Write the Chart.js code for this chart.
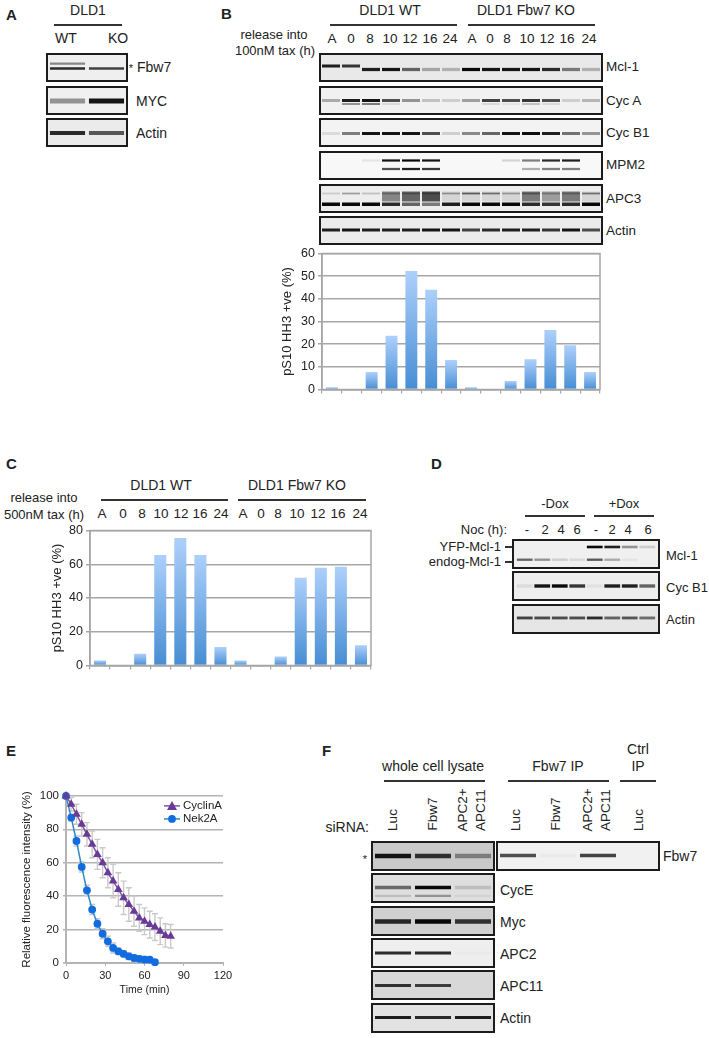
<!DOCTYPE html>
<html>
<head>
<meta charset="utf-8">
<title>DLD1 Fbw7 KO figure</title>
<script src="https://cdn.jsdelivr.net/npm/chart.js@4/dist/chart.umd.min.js"></script>
<style>
  html, body { margin: 0; background: #fff; }
  #page { position: relative; width: 709px; height: 1038px; overflow: hidden; font-family: "Liberation Sans", Arial, sans-serif; color: #222; }
  .t { position: absolute; white-space: nowrap; line-height: 1; }
  .rule { position: absolute; height: 1.5px; background: #333; }
  .blot { position: absolute; box-sizing: border-box; border: 2px solid #1c1c1c; }
  .blot canvas, .plot { display: block; }
  .plot { position: absolute; }
</style>
</head>
<body>
<div id="page"></div>
<script>
// bar charts, panels B and C
const timeLabels = ['A', '0', '8', '10', '12', '16', '24', 'A', '0', '8', '10', '12', '16', '24'];
const hh3Tax100 = [1, 0, 7.7, 23.7, 52.3, 44, 13, 1, 0, 3.8, 13.3, 26.3, 19.5, 7.7];
const hh3Tax500 = [3, 0, 7, 65.5, 75.5, 65.5, 11, 3, 0, 5.3, 52, 58, 58.5, 12];

// degradation curves, panel E
const cyclinATime = [0, 4, 8, 12, 16, 20, 24, 28, 32, 36, 40, 44, 48, 52, 56, 60, 64, 68, 72, 76, 80];
const cyclinA = [100, 95, 89, 83, 77, 71, 65, 60, 54, 49, 44, 39, 35, 31, 27, 25, 23, 21.5, 19, 16.5, 16];
const cyclinAErr = [0, 4, 6, 7, 7, 8, 9, 9, 9, 10, 10, 10, 10, 9, 8, 8, 8, 8, 8, 7, 7];
const nek2ATime = [0, 4, 8, 12, 16, 20, 24, 28, 32, 36, 40, 44, 48, 52, 56, 60, 64, 68];
const nek2A = [100, 87, 73, 57.5, 43.5, 32, 23.5, 17.5, 13, 9, 7, 5.5, 4, 3, 2.5, 2, 2, 0.5];
const nek2AErr = [0, 2, 3, 3, 3, 3, 3, 3, 3, 3, 2, 2, 2, 2, 2, 2, 1, 0.5];

// blot band strengths per lane (0-1), panel A
const aLanes = ['WT', 'KO'];
const aFbw7Upper = [0.45, 0];
const aFbw7 = [0.85, 0.75];
const aMyc = [0.4, 0.95];
const aActin = [0.85, 0.65];

// panel B
const bMcl1Early = [0.9, 0.8, 0, 0, 0, 0, 0, 0, 0, 0, 0, 0, 0, 0];
const bMcl1 = [0, 0, 0.9, 0.95, 0.6, 0.3, 0.25, 1, 0.95, 0.95, 0.95, 0.85, 0.5, 0.25];
const bCycA = [0.3, 0.9, 0.95, 0.7, 0.4, 0.2, 0.15, 0.35, 0.75, 0.7, 0.8, 0.7, 0.15, 0.25];
const bCycALower = [0, 0.4, 0.5, 0.1, 0, 0, 0, 0, 0.1, 0.05, 0.2, 0.1, 0, 0];
const bCycB1 = [0.1, 0.5, 0.95, 0.95, 0.95, 0.7, 0.15, 0.45, 0.6, 0.95, 0.98, 0.9, 0.55, 0.4];
const bMpm2Upper = [0, 0, 0.08, 0.95, 1, 0.95, 0, 0, 0, 0.15, 0.5, 0.85, 0.9, 0];
const bMpm2Lower = [0, 0, 0, 0.7, 0.9, 0.8, 0, 0, 0, 0, 0.3, 0.5, 0.5, 0];
const bApc3Upper = [0.15, 0.35, 0.2, 0.3, 0.3, 0.3, 0.35, 0.6, 0.5, 0.3, 0.4, 0.3, 0.3, 0.5];
const bApc3Smear = [0, 0, 0, 0.45, 0.6, 0.7, 0.1, 0.1, 0.1, 0.1, 0.5, 0.35, 0.5, 0.1];
const bApc3Lower = [1, 1, 1, 0.85, 0.6, 0.5, 0.9, 1, 1, 1, 0.85, 0.8, 0.85, 1];
const bActin = [0.9, 0.95, 0.9, 0.9, 0.9, 0.95, 0.95, 0.75, 0.85, 0.9, 0.9, 0.8, 0.95, 0.7];

// panel D
const dLanes = ['-', '2', '4', '6', '-', '2', '4', '6'];
const dYfpMcl1 = [0, 0, 0, 0, 1, 0.9, 0.4, 0.15];
const dEndogMcl1 = [0.6, 0.4, 0.15, 0.1, 0.65, 0.3, 0.05, 0];
const dCycB1 = [0.08, 0.95, 1, 0.8, 0.05, 0.9, 0.9, 0.6];
const dActin = [0.75, 0.7, 0.7, 0.7, 0.85, 0.6, 0.65, 0.55];

// panel F
const fLysateLanes = ['Luc', 'Fbw7', 'APC2+ APC11'];
const fIpLanes = ['Luc', 'Fbw7', 'APC2+ APC11', 'Luc'];
const fFbw7 = [0.95, 0.8, 0.4];
const fFbw7Ip = [0.7, 0.03, 0.75, 0];
const fCycE = [0.55, 1, 0.15];
const fCycELower = [0.15, 0.35, 0.05];
const fMyc = [0.85, 1, 0.8];
const fApc2 = [0.85, 0.85, 0.02];
const fApc11 = [0.8, 0.75, 0];
const fActin = [0.9, 0.85, 0.9];

const page = document.getElementById('page');
const FONT = '"Liberation Sans", Arial, sans-serif';
Chart.defaults.font.family = FONT;
Chart.defaults.animation = false;

// text anchored on its centre by default, align 'l' or 'r' anchors on that edge
function text(str, x, y, size, opts) {
  opts = opts || {};
  const el = document.createElement('div');
  el.className = 't';
  el.textContent = str;
  el.style.left = x + 'px';
  el.style.top = y + 'px';
  el.style.fontSize = (size || 13.5) + 'px';
  if (opts.bold) el.style.fontWeight = 'bold';
  const shiftX = opts.align === 'l' ? '0' : opts.align === 'r' ? '-100%' : '-50%';
  el.style.transform = 'translate(' + shiftX + ',-50%)' + (opts.rotate ? ' rotate(-90deg)' : '');
  page.appendChild(el);
}

function rule(x1, x2, y, color) {
  const el = document.createElement('div');
  el.className = 'rule';
  el.style.left = x1 + 'px';
  el.style.width = (x2 - x1) + 'px';
  el.style.top = y + 'px';
  if (color) el.style.background = color;
  page.appendChild(el);
}

function newCanvas(left, top, width, height) {
  const c = document.createElement('canvas');
  c.className = 'plot';
  c.width = width;
  c.height = height;
  c.style.left = left + 'px';
  c.style.top = top + 'px';
  c.style.width = width + 'px';
  c.style.height = height + 'px';
  page.appendChild(c);
  return c;
}

const softBands = {
  id: 'softBands',
  beforeDatasetsDraw(chart) { chart.ctx.filter = 'blur(0.7px)'; },
  afterDatasetsDraw(chart) { chart.ctx.filter = 'none'; }
};

// one blot panel: each row is a band at height y (% of the panel) with one strength per lane
function blot(left, top, width, height, bg, lanes, rows, pad) {
  const wrap = document.createElement('div');
  wrap.className = 'blot';
  wrap.style.left = left + 'px';
  wrap.style.top = top + 'px';
  wrap.style.width = width + 'px';
  wrap.style.height = height + 'px';
  wrap.style.background = bg;
  page.appendChild(wrap);
  const c = document.createElement('canvas');
  c.width = width - 4;
  c.height = height - 4;
  wrap.appendChild(c);
  new Chart(c, {
    type: 'bar',
    data: {
      labels: lanes,
      datasets: rows.map(r => ({
        data: r.values.map(() => [r.y - r.h / 2, r.y + r.h / 2]),
        backgroundColor: r.values.map(v => 'rgba(8,8,8,' + v + ')'),
        barPercentage: r.w || 0.9,
        categoryPercentage: 1,
        grouped: false
      }))
    },
    options: {
      responsive: false,
      events: [],
      layout: { padding: { left: pad || 0, right: pad || 0 } },
      plugins: { legend: { display: false }, tooltip: { enabled: false } },
      scales: {
        x: { display: false },
        y: { display: false, min: 0, max: 100, reverse: true }
      }
    },
    plugins: [softBands]
  });
}

const plotFrame = {
  id: 'plotFrame',
  afterDraw(chart) {
    const a = chart.chartArea, ctx = chart.ctx;
    ctx.save();
    ctx.strokeStyle = '#a6a6a6';
    ctx.lineWidth = 1.5;
    ctx.strokeRect(a.left, a.top, a.right - a.left, a.bottom - a.top);
    ctx.restore();
  }
};

function barGradient(context) {
  const chart = context.chart;
  if (!chart.chartArea || !context.parsed) return '#78aee8';
  const y = chart.scales.y;
  const g = chart.ctx.createLinearGradient(0, y.getPixelForValue(context.parsed.y), 0, y.getPixelForValue(0));
  g.addColorStop(0, '#add0fb');
  g.addColorStop(1, '#478dd3');
  return g;
}

function barChart(left, top, width, height, labels, values, yMax, yStep, axisWidth) {
  new Chart(newCanvas(left, top, width, height), {
    type: 'bar',
    data: {
      labels: labels,
      datasets: [{ data: values, backgroundColor: barGradient, barPercentage: 0.6, categoryPercentage: 1 }]
    },
    options: {
      responsive: false,
      events: [],
      layout: { padding: { top: 8, right: 2 } },
      plugins: { legend: { display: false }, tooltip: { enabled: false } },
      scales: {
        x: {
          afterFit: s => { s.height = 8; },
          ticks: { display: false },
          border: { color: '#a6a6a6', width: 1.5 },
          grid: { drawOnChartArea: false, offset: true, color: '#a6a6a6', tickLength: 4, lineWidth: 1.2 }
        },
        y: {
          min: 0,
          max: yMax,
          afterFit: s => { s.width = axisWidth; },
          ticks: { stepSize: yStep, color: '#222', font: { size: 12.5 }, padding: 3 },
          border: { color: '#a6a6a6', width: 1.5 },
          grid: { color: '#a6a6a6', lineWidth: 1.5, tickLength: 4 },
          title: { display: true, text: 'pS10 HH3 +ve (%)', color: '#222', font: { size: 13 }, padding: 0 }
        }
      }
    },
    plugins: [plotFrame]
  });
}

// ---- panel A ----
text('A', 6, 14, 15, { bold: true, align: 'l' });
text('DLD1', 88, 10, 14);
rule(54, 122, 24);
text('WT', 66, 38, 14);
text('KO', 118, 38, 14);
blot(46, 53, 82, 29, '#efefef', aLanes, [
  { values: aFbw7Upper, y: 34, h: 9 },
  { values: aFbw7, y: 54, h: 10 }
]);
blot(46, 86, 82, 29, '#f0f0f0', aLanes, [{ values: aMyc, y: 52, h: 20 }]);
blot(46, 118, 82, 29, '#ebebeb', aLanes, [{ values: aActin, y: 52, h: 16 }]);
text('*', 131, 68, 11);
text('Fbw7', 137, 67, 14, { align: 'l' });
text('MYC', 136, 101, 14, { align: 'l' });
text('Actin', 136, 133, 14, { align: 'l' });

// ---- panel B ----
text('B', 221, 13, 15, { bold: true, align: 'l' });
text('release into', 274, 34, 13);
text('100nM tax (h)', 275, 50, 13);
text('DLD1 WT', 390, 10, 14);
text('DLD1 Fbw7 KO', 526, 10, 14);
rule(330, 457, 24);
rule(468, 595, 24);
const bLaneX = [332, 351, 370, 390, 410, 430, 450, 472, 490, 507, 527, 547, 567, 589];
timeLabels.forEach((l, i) => text(l, bLaneX[i], 39));
blot(319, 53, 284, 29, '#e9e9e9', timeLabels, [
  { values: bMcl1Early, y: 44, h: 12 },
  { values: bMcl1, y: 58, h: 13 }
]);
blot(319, 86, 284, 29, '#f1f1f1', timeLabels, [
  { values: bCycA, y: 50, h: 12 },
  { values: bCycALower, y: 64, h: 8 }
]);
blot(319, 118, 284, 29, '#f3f3f3', timeLabels, [{ values: bCycB1, y: 54, h: 12 }]);
blot(319, 151, 284, 29, '#f8f8f8', timeLabels, [
  { values: bMpm2Upper, y: 30, h: 9 },
  { values: bMpm2Lower, y: 64, h: 9 }
]);
blot(319, 184, 284, 29, '#ededed', timeLabels, [
  { values: bApc3Smear, y: 42, h: 40 },
  { values: bApc3Upper, y: 30, h: 7 },
  { values: bApc3Lower, y: 73, h: 14 }
]);
blot(319, 216, 284, 29, '#ebebeb', timeLabels, [{ values: bActin, y: 48, h: 12 }]);
text('Mcl-1', 606, 67, 13.5, { align: 'l' });
text('Cyc A', 606, 101, 13.5, { align: 'l' });
text('Cyc B1', 606, 133, 13.5, { align: 'l' });
text('MPM2', 606, 165, 13.5, { align: 'l' });
text('APC3', 606, 199, 13.5, { align: 'l' });
text('Actin', 606, 231, 13.5, { align: 'l' });
barChart(280, 243, 322, 157, timeLabels, hh3Tax100, 60, 10, 42);

// ---- panel C ----
text('C', 6, 463, 15, { bold: true, align: 'l' });
text('release into', 44, 497, 13);
text('500nM tax (h)', 44, 514, 13);
text('DLD1 WT', 161, 485, 14);
text('DLD1 Fbw7 KO', 297, 485, 14);
rule(101, 228, 499);
rule(238, 366, 499);
const cLaneX = [102, 123, 142, 161, 181, 200, 221, 243, 261, 278, 297, 318, 338, 360];
timeLabels.forEach((l, i) => text(l, cLaneX[i], 514));
barChart(50, 520, 323, 156, timeLabels, hh3Tax500, 80, 20, 40);

// ---- panel D ----
text('D', 431, 463, 15, { bold: true, align: 'l' });
text('-Dox', 555, 503, 13);
text('+Dox', 624, 503, 13);
rule(525, 585, 515);
rule(594, 654, 515);
text('Noc (h):', 507, 529, 13, { align: 'r' });
const dLaneX = [527, 545, 561, 577, 596, 612, 628, 648];
dLanes.forEach((l, i) => text(l, dLaneX[i], 529, 13));
blot(512, 539, 148, 30, '#f0f0f0', dLanes, [
  { values: dYfpMcl1, y: 23, h: 10 },
  { values: dEndogMcl1, y: 72, h: 9 }
], 2);
blot(512, 571, 148, 30, '#eeeeee', dLanes, [{ values: dCycB1, y: 50, h: 13 }], 2);
blot(512, 604, 148, 30, '#e6e6e6', dLanes, [{ values: dActin, y: 46, h: 11 }], 2);
text('YFP-Mcl-1', 501, 546, 13, { align: 'r' });
text('endog-Mcl-1', 501, 561, 13, { align: 'r' });
rule(505, 512, 546);
rule(505, 512, 561);
text('Mcl-1', 666, 555, 13, { align: 'l' });
text('Cyc B1', 666, 587, 13, { align: 'l' });
text('Actin', 666, 619, 13, { align: 'l' });

// ---- panel E ----
text('E', 6, 750, 15, { bold: true, align: 'l' });

const errorBars = {
  id: 'errorBars',
  beforeDatasetsDraw(chart) {
    const ctx = chart.ctx, sx = chart.scales.x, sy = chart.scales.y;
    ctx.save();
    ctx.strokeStyle = '#c9c9c9';
    ctx.lineWidth = 1.4;
    chart.data.datasets.forEach(ds => {
      ds.data.forEach((p, i) => {
        const x = sx.getPixelForValue(p.x);
        const hi = sy.getPixelForValue(p.y + ds.errors[i]);
        const lo = sy.getPixelForValue(p.y - ds.errors[i]);
        ctx.beginPath();
        ctx.moveTo(x, hi); ctx.lineTo(x, lo);
        ctx.moveTo(x - 3, hi); ctx.lineTo(x + 3, hi);
        ctx.moveTo(x - 3, lo); ctx.lineTo(x + 3, lo);
        ctx.stroke();
      });
    });
    ctx.restore();
  }
};

const lineLegend = {
  id: 'lineLegend',
  afterDraw(chart) {
    const ctx = chart.ctx, a = chart.chartArea;
    ctx.save();
    ctx.font = '11.5px ' + FONT;
    ctx.textBaseline = 'middle';
    chart.data.datasets.forEach((ds, i) => {
      const y = a.top + 10 + i * 13, x1 = a.left + 98, x2 = a.left + 114, mid = (x1 + x2) / 2;
      ctx.strokeStyle = ds.borderColor;
      ctx.lineWidth = ds.borderWidth;
      ctx.beginPath(); ctx.moveTo(x1, y); ctx.lineTo(x2, y); ctx.stroke();
      ctx.fillStyle = ds.pointBackgroundColor;
      ctx.beginPath();
      if (ds.pointStyle === 'triangle') {
        ctx.moveTo(mid, y - 5); ctx.lineTo(mid + 5, y + 4); ctx.lineTo(mid - 5, y + 4); ctx.closePath();
      } else {
        ctx.arc(mid, y, 3.9, 0, Math.PI * 2);
      }
      ctx.fill();
      ctx.fillStyle = '#222';
      ctx.fillText(ds.label, x2 + 3, y);
    });
    ctx.restore();
  }
};

function points(xs, ys) {
  return xs.map((x, i) => ({ x: x, y: ys[i] }));
}

new Chart(newCanvas(20, 785, 218, 211), {
  type: 'scatter',
  data: {
    datasets: [
      {
        label: 'CyclinA',
        data: points(cyclinATime, cyclinA),
        errors: cyclinAErr,
        showLine: true,
        clip: false,
        borderColor: '#7f55a8',
        borderWidth: 1.5,
        pointStyle: 'triangle',
        pointRadius: 5,
        pointBackgroundColor: '#6a3b96',
        pointBorderColor: '#6a3b96',
        pointBorderWidth: 0
      },
      {
        label: 'Nek2A',
        data: points(nek2ATime, nek2A),
        errors: nek2AErr,
        showLine: true,
        clip: false,
        borderColor: '#2c8ccb',
        borderWidth: 1.5,
        pointStyle: 'circle',
        pointRadius: 3.9,
        pointBackgroundColor: '#116ddf',
        pointBorderColor: '#116ddf',
        pointBorderWidth: 0
      }
    ]
  },
  options: {
    responsive: false,
    events: [],
    layout: { padding: { top: 6, right: 15 } },
    plugins: { legend: { display: false }, tooltip: { enabled: false } },
    scales: {
      x: {
        type: 'linear',
        min: 0,
        max: 120,
        afterFit: s => { s.height = 33; },
        ticks: { stepSize: 30, color: '#222', font: { size: 11 }, padding: 3, maxRotation: 0 },
        border: { color: '#b4b4b4', width: 2 },
        grid: { drawOnChartArea: false, color: '#b4b4b4', tickLength: 3 },
        title: { display: true, text: 'Time (min)', color: '#222', font: { size: 10.5 }, padding: 0 }
      },
      y: {
        min: 0,
        max: 100,
        afterFit: s => { s.width = 46; },
        ticks: { stepSize: 20, color: '#222', font: { size: 11.5 }, padding: 4 },
        border: { color: '#b4b4b4', width: 2 },
        grid: { color: '#b4b4b4', lineWidth: 1.6, tickLength: 3 },
        title: { display: true, text: 'Relative fluorescence intensity (%)', color: '#222', font: { size: 11.5 }, padding: 0 }
      }
    }
  },
  plugins: [errorBars, lineLegend]
});

// ---- panel F ----
text('F', 322, 750, 15, { bold: true, align: 'l' });
text('whole cell lysate', 433, 766, 14);
text('Fbw7 IP', 558, 766, 14);
text('Ctrl', 638, 749, 14);
text('IP', 638, 766, 14);
rule(384, 485, 780);
rule(508, 609, 780);
rule(620, 656, 780);
text('siRNA:', 369, 827, 14, { align: 'r' });
text('Luc', 393, 820, 13.5, { rotate: true });
text('Fbw7', 433, 814, 13.5, { rotate: true });
text('APC2+', 463, 810, 13.5, { rotate: true });
text('APC11', 481, 810, 13.5, { rotate: true });
text('Luc', 516, 820, 13.5, { rotate: true });
text('Fbw7', 556, 814, 13.5, { rotate: true });
text('APC2+', 588, 810, 13.5, { rotate: true });
text('APC11', 606, 810, 13.5, { rotate: true });
text('Luc', 639, 820, 13.5, { rotate: true });
text('*', 365, 859, 11);
blot(371, 841, 124, 30, '#c9c9c9', fLysateLanes, [{ values: fFbw7, y: 50, h: 18 }]);
blot(496, 841, 164, 30, '#f1f1f1', fIpLanes, [{ values: fFbw7Ip, y: 48, h: 13 }]);
blot(371, 873, 124, 30, '#dedede', fLysateLanes, [
  { values: fCycE, y: 48, h: 14 },
  { values: fCycELower, y: 80, h: 9 }
]);
blot(371, 906, 124, 30, '#d0d0d0', fLysateLanes, [{ values: fMyc, y: 52, h: 18 }]);
blot(371, 938, 124, 30, '#eeeeee', fLysateLanes, [{ values: fApc2, y: 50, h: 12 }]);
blot(371, 970, 124, 30, '#d8d8d8', fLysateLanes, [{ values: fApc11, y: 52, h: 12 }]);
blot(371, 1003, 124, 30, '#e2e2e2', fLysateLanes, [{ values: fActin, y: 48, h: 12 }]);
text('Fbw7', 663, 856, 14, { align: 'l' });
text('CycE', 500, 890, 14, { align: 'l' });
text('Myc', 500, 922, 14, { align: 'l' });
text('APC2', 500, 954, 14, { align: 'l' });
text('APC11', 500, 986, 14, { align: 'l' });
text('Actin', 500, 1018, 14, { align: 'l' });
</script>
</body>
</html>
